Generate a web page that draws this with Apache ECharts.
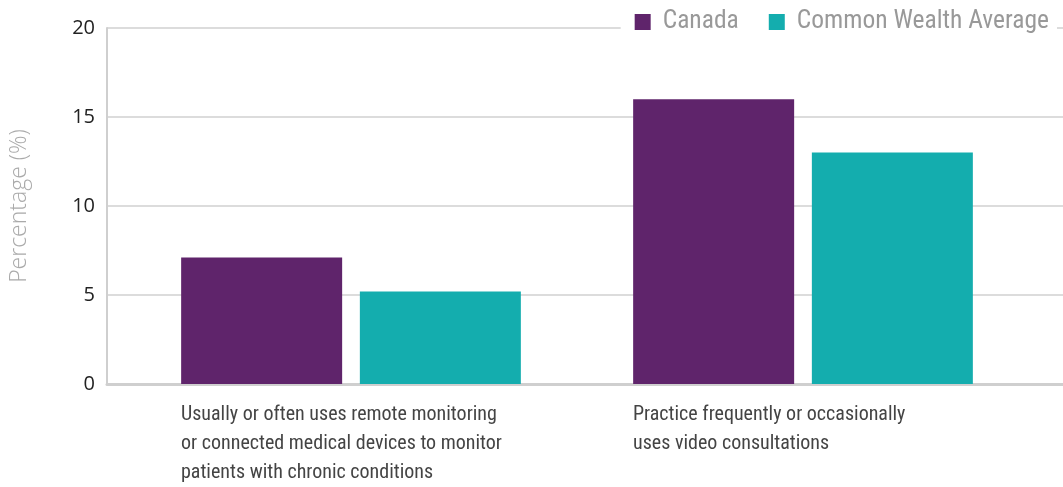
<!DOCTYPE html>
<html>
<head>
<meta charset="utf-8">
<script src="https://cdn.jsdelivr.net/npm/echarts@6/dist/echarts.min.js"></script>
<style>
  html, body { margin: 0; padding: 0; background: #fff; }
  #chart { width: 1063px; height: 487px; }
</style>
</head>
<body>
<div id="chart"></div>
<script>
const categories = [
    'Usually or often uses remote monitoring\nor connected medical devices to monitor\npatients with chronic conditions',
    'Practice frequently or occasionally\nuses video consultations'
];
const canada = [7.1, 16];
const commonWealth = [5.2, 13];
const yTicks = [0, 5, 10, 15, 20];

const narrow = '"Liberation Sans Narrow", "Roboto Condensed", sans-serif';

const chart = echarts.init(document.getElementById('chart'));

const option = {
    animation: false,
    legend: {
        right: 6,
        top: 7,
        itemWidth: 16,
        itemHeight: 16,
        itemGap: 30,
        icon: 'rect',
        backgroundColor: '#fff',
        padding: [2, 8, 2, 14],
        textStyle: { fontFamily: narrow, fontSize: 25.5, color: '#999', padding: [0, 0, 0, 7] },
        data: ['Canada', 'Common Wealth Average']
    },
    grid: [
        // frame: y axis, grid lines, x axis line
        { left: 106, right: 0, top: 28, bottom: 103 },
        // bars
        { left: 125, right: 34, top: 28, bottom: 103 }
    ],
    xAxis: [
        {
            gridIndex: 0,
            type: 'category',
            data: ['a'],
            axisLine: { lineStyle: { color: '#cfcfcf', width: 3 } },
            axisTick: { show: false },
            axisLabel: { show: false }
        },
        {
            gridIndex: 1,
            type: 'category',
            data: categories,
            axisLine: { show: false },
            axisTick: { show: false },
            axisLabel: {
                align: 'left',
                padding: [0, 0, 0, -170],
                margin: 16,
                lineHeight: 29,
                fontFamily: narrow,
                fontSize: 20,
                color: '#444'
            }
        }
    ],
    yAxis: [
        {
            gridIndex: 0,
            type: 'value',
            min: 0,
            max: 20,
            interval: 5,
            name: 'Percentage (%)',
            nameLocation: 'middle',
            nameGap: 76,
            nameTextStyle: { fontFamily: '"Open Sans", sans-serif', fontSize: 23, color: '#aaa', fontWeight: 300 },
            axisLine: { show: true, lineStyle: { color: '#cfcfcf', width: 2 } },
            axisTick: { show: false },
            axisLabel: {
                margin: 12,
                fontFamily: '"Open Sans", sans-serif',
                fontSize: 20,
                color: '#222',
                formatter: v => yTicks.includes(v) ? String(v) : ''
            },
            splitLine: { show: true, lineStyle: { color: '#dcdcdc', width: 2 } }
        },
        {
            gridIndex: 1,
            type: 'value',
            min: 0,
            max: 20,
            interval: 5,
            axisLine: { show: false },
            axisTick: { show: false },
            axisLabel: { show: false },
            splitLine: { show: false }
        }
    ],
    series: [
        {
            name: 'Canada',
            type: 'bar',
            xAxisIndex: 1,
            yAxisIndex: 1,
            barWidth: 161,
            barGap: '11%',
            itemStyle: { color: '#5f246b' },
            data: canada
        },
        {
            name: 'Common Wealth Average',
            type: 'bar',
            xAxisIndex: 1,
            yAxisIndex: 1,
            barWidth: 161,
            barGap: '11%',
            itemStyle: { color: '#14adae' },
            data: commonWealth
        }
    ]
};

chart.setOption(option);
</script>
</body>
</html>
